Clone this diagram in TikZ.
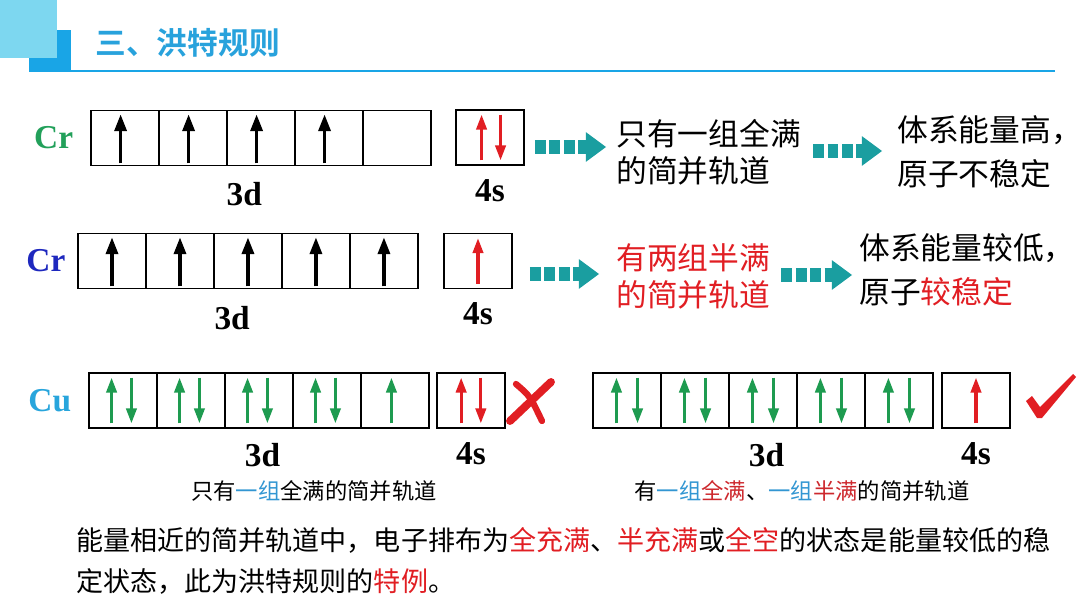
\documentclass[tikz,border=0pt]{standalone}
\usepackage{fontspec}
\setmainfont{Liberation Serif}
\newfontfamily\cjk[BoldFont={Noto Sans CJK SC Bold}]{Noto Sans CJK SC}
\usepackage{xcolor}
\usepackage{tikz}
\usetikzlibrary{arrows.meta,positioning,calc}
\definecolor{flowteal}{RGB}{26,158,160}
\definecolor{spingreen}{RGB}{30,155,80}
\definecolor{crgreen}{RGB}{34,160,90}
\definecolor{crblue}{RGB}{30,40,190}
\definecolor{cublue}{RGB}{40,165,220}
\definecolor{hred}{RGB}{225,30,35}
\definecolor{capred}{RGB}{205,40,45}
\definecolor{capblue}{RGB}{50,150,210}
\definecolor{hdrcyan}{RGB}{125,215,240}
\definecolor{hdrblue}{RGB}{25,165,230}
\definecolor{ttlblue}{RGB}{40,162,220}

\begin{document}
\begin{tikzpicture}[x=0.02cm, y=-0.02cm,
  cell/.style={draw, line width=1.1pt, minimum width=1.36cm, minimum height=1.1cm, inner sep=0pt, outer sep=0pt},
  elem/.style={font=\bfseries\fontsize{19}{22}\selectfont, inner sep=0pt},
  orb/.style={font=\bfseries\fontsize{19}{22}\selectfont, inner sep=0pt},
  spin/.style={line width=1.9pt, -{Triangle[length=9.5pt,width=6.8pt]}, shorten <=1.2pt, shorten >=2.2pt},
  pair/.style={line width=1.8pt, -{Triangle[length=8.5pt,width=5.8pt]}, shorten <=2.6pt, shorten >=2.6pt},
  flow/.style={flowteal, line width=7.6pt, dash pattern=on 6.2pt off 2pt, -{Triangle[length=11.5pt,width=17pt,line width=0pt]}},
  txt/.style={font=\cjk\fontsize{17.5}{21}\selectfont, align=left, inner sep=0pt, anchor=west},
  caption/.style={font=\cjk\fontsize{12.7}{15}\selectfont, inner sep=0pt}]
\useasboundingbox (0,0) rectangle (1080,608);

% header
\fill[hdrblue] (29,30) rectangle (71,72);
\fill[hdrcyan] (0,0) rectangle (57,58);
\draw[hdrblue, line width=1.1pt] (71,71) -- (1055,71);
\node[anchor=west, inner sep=0pt, ttlblue, font=\cjk\bfseries\fontsize{17.5}{20}\selectfont] (title) at (95,43) {三、洪特规则};

% Cr, one full pair in 4s
\node[cell] (a1) at (125,138) {};
\foreach \i [count=\j from 2] in {1,...,4}
  \node[cell, right=0pt of a\i] (a\j) {};
\node[cell] (as) at (490,137.5) {};
\foreach \i in {1,...,4}
  \draw[spin] ([xshift=-2.5pt]a\i.south) -- ([xshift=-2.5pt]a\i.north);
\draw[pair, hred] ([xshift=-4.8pt]as.south) -- ([xshift=-4.8pt]as.north);
\draw[pair, hred] ([xshift=6pt]as.north) -- ([xshift=6pt]as.south);
\node[elem, crgreen, left=10pt of a1] (cr1) {Cr};
\node[orb, below=9.5pt of a3, xshift=-9.5pt] (d1) {3d};
\node[orb, below=8pt of as] (s1) {4s};
\node[txt] (t1) at (616,152) {只有一组全满\\的简并轨道};
\node[txt, font=\cjk\fontsize{17.5}{25}\selectfont] (u1) at (897,152) {体系能量高，\\原子不稳定};
\draw[flow] ($(as.east |- t1.west)+(11,-5)$) -- ($(t1.west)+(-10,-5)$);
\draw[flow] ($(t1.east)+(12,-1)$) -- ($(u1.west |- t1.east)+(-15,-1)$);

% Cr, half filled
\node[cell] (b1) at (112,261) {};
\foreach \i [count=\j from 2] in {1,...,4}
  \node[cell, right=0pt of b\i] (b\j) {};
\node[cell] (bs) at (478,261) {};
\foreach \i in {1,...,5}
  \draw[spin] (b\i.south) -- (b\i.north);
\draw[pair, hred] (bs.south) -- (bs.north);
\node[elem, crblue, left=7pt of b1] (cr2) {Cr};
\node[orb, below=10pt of b3, xshift=-9pt] (d2) {3d};
\node[orb, below=8pt of bs] (s2) {4s};
\node[txt, hred, font=\cjk\fontsize{17.5}{21}\selectfont] (t2) at (616,276) {有两组半满\\的简并轨道};
\node[txt, font=\cjk\fontsize{17.5}{25}\selectfont] (u2) at (859,270) {体系能量较低，\\原子\textcolor{hred}{较稳定}};
\draw[flow] ($(bs.east |- t2.west)+(18,-2)$) -- ($(t2.west)+(-17,-2)$);
\draw[flow] ($(t2.east)+(11,-1)$) -- ($(u2.west |- t2.east)+(-7,-1)$);

% Cu, wrong filling
\node[cell] (c1) at (123,400.5) {};
\foreach \i [count=\j from 2] in {1,...,4}
  \node[cell, right=0pt of c\i] (c\j) {};
\node[cell] (cs) at (471,400.5) {};
\foreach \i in {1,...,4} {
  \draw[pair, spingreen] ([xshift=-6.5pt]c\i.south) -- ([xshift=-6.5pt]c\i.north);
  \draw[pair, spingreen] ([xshift=4.8pt]c\i.north) -- ([xshift=4.8pt]c\i.south);
}
\draw[pair, spingreen] ([xshift=-2pt]c5.south) -- ([xshift=-2pt]c5.north);
\draw[pair, hred] ([xshift=-5.6pt]cs.south) -- ([xshift=-5.6pt]cs.north);
\draw[pair, hred] ([xshift=5.6pt]cs.north) -- ([xshift=5.6pt]cs.south);
\node[elem, cublue, left=10pt of c1] (cu1) {Cu};
\node[orb, below=8.5pt of c3, xshift=2pt] (d3) {3d};
\node[orb, below=8pt of cs] (s3) {4s};
\node[caption] (cap1) at (314,491) {只有\textcolor{capblue}{一组}全满的简并轨道};
\draw[hred, line width=4.5pt, line cap=round] (551,382) -- (510,421);
\draw[hred, line width=3.6pt, line cap=round] (516,384) .. controls (530,396) .. (542,421);

% Cu, right filling
\node[cell] (e1) at (627,400.5) {};
\foreach \i [count=\j from 2] in {1,...,4}
  \node[cell, right=0pt of e\i] (e\j) {};
\node[cell] (es) at (976,400.5) {};
\foreach \i in {1,...,5} {
  \draw[pair, spingreen] ([xshift=-6pt]e\i.south) -- ([xshift=-6pt]e\i.north);
  \draw[pair, spingreen] ([xshift=6pt]e\i.north) -- ([xshift=6pt]e\i.south);
}
\draw[pair, hred] (es.south) -- (es.north);
\node[orb, below=8.5pt of e3, xshift=2pt] (d4) {3d};
\node[orb, below=8pt of es] (s4) {4s};
\node[caption] (cap2) at (802,491) {有\textcolor{capblue}{一组}\textcolor{capred}{全满}、\textcolor{capblue}{一组}\textcolor{capred}{半满}的简并轨道};
\fill[hred] (1026,401) -- (1032,396) -- (1040,407) -- (1073,374) -- (1076,377) -- (1042,418) -- (1037,418) -- cycle;

% rule text
\node[anchor=west, align=left, inner sep=0pt, font=\cjk\fontsize{15.4}{23.2}\selectfont] (rule) at (76,561) {能量相近的简并轨道中，电子排布为\textcolor{hred}{全充满}、\textcolor{hred}{半充满}或\textcolor{hred}{全空}的状态是能量较低的稳\\定状态，此为洪特规则的\textcolor{hred}{特例}。};
\end{tikzpicture}
\end{document}
